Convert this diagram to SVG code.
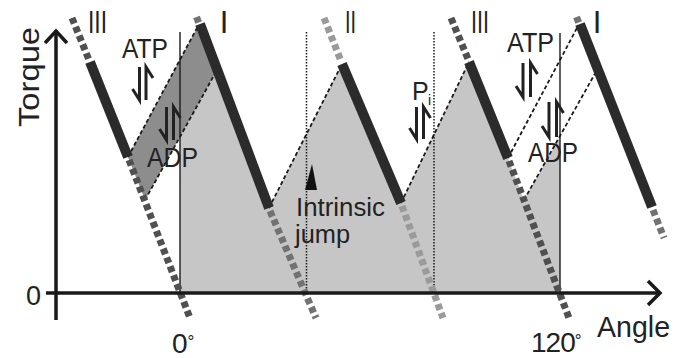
<svg xmlns="http://www.w3.org/2000/svg" width="680" height="358" viewBox="0 0 680 358">
<style>
  text { font-family: "Liberation Sans", Arial, sans-serif; fill: #222; }
  .bar { stroke: #2b2b2b; stroke-width: 10; fill: none; }
  .sq { stroke-width: 7; fill: none; stroke-dasharray: 6 3.5; }
  .s3 { stroke: #505050; }
  .s1 { stroke: #727272; }
  .s2 { stroke: #9a9a9a; }
  .dash { stroke: #1a1a1a; stroke-width: 1.8; stroke-dasharray: 4 2.5; fill: none; }
  .dot { stroke: #1a1a1a; stroke-width: 1.5; stroke-dasharray: 1.5 1.5; fill: none; }
  .vl { stroke: #1a1a1a; stroke-width: 1.4; fill: none; }
  .axis { stroke: #1a1a1a; stroke-width: 3.5; fill: none; }
  .harp { stroke: #222; stroke-width: 3; fill: none; stroke-linejoin: miter; }
</style>
<rect width="680" height="358" fill="#ffffff"/>

<g id="fills">
  <path d="M180,293 L180,136.8 L217,70 L269,208 L342,64 L401,203 L469,62 L508,158 L524,200 L560,136.8 L560,293 Z" fill="#c6c6c6"/>
  <path d="M128,157 L198,26 L217,70 L145,200 Z" fill="#8d8d8d"/>
</g>

<g id="guides">
  <line class="vl" x1="180" y1="32" x2="180" y2="293"/>
  <line class="vl" x1="560" y1="33" x2="560" y2="293"/>
  <line class="dot" x1="306.5" y1="32" x2="306.5" y2="293"/>
  <line class="dot" x1="434" y1="32" x2="434" y2="293"/>
</g>

<g id="connectors">
  <line class="dash" x1="128" y1="157" x2="198" y2="26"/>
  <line class="dash" x1="145" y1="200" x2="217" y2="70"/>
  <line class="dash" x1="269" y1="208" x2="342" y2="64"/>
  <line class="dash" x1="401" y1="203" x2="469" y2="62"/>
  <line class="dash" x1="508" y1="158" x2="578" y2="26"/>
  <line class="dash" x1="524" y1="200" x2="597" y2="70"/>
</g>

<g id="extensions">
  <line class="sq s3" x1="72" y1="18" x2="89" y2="60"/>
  <line class="sq s3" x1="129" y1="160" x2="190" y2="318"/>
  <line class="sq s1" x1="196.5" y1="17" x2="199" y2="23.5"/>
  <line class="sq s1" x1="270" y1="211" x2="316" y2="318"/>
  <line class="sq s2" x1="324" y1="18" x2="341" y2="61"/>
  <line class="sq s2" x1="402" y1="206" x2="443" y2="318"/>
  <line class="sq s3" x1="451" y1="18" x2="468" y2="59"/>
  <line class="sq s3" x1="509" y1="161" x2="569" y2="318"/>
  <line class="sq s1" x1="576.5" y1="17" x2="579" y2="23.5"/>
  <line class="sq s1" x1="653" y1="210" x2="664" y2="238"/>
</g>

<g id="bars">
  <line class="bar" x1="90" y1="62" x2="128" y2="157"/>
  <line class="bar" x1="200" y1="24" x2="269" y2="208"/>
  <line class="bar" x1="342" y1="64" x2="401" y2="203"/>
  <line class="bar" x1="469" y1="62" x2="508" y2="158"/>
  <line class="bar" x1="580" y1="24" x2="652" y2="207"/>
</g>

<g id="axes">
  <line class="axis" x1="56" y1="32" x2="56" y2="320"/>
  <line class="axis" x1="46" y1="293" x2="659" y2="293"/>
  <polyline class="axis" points="45,43 56,31 67,43"/>
  <polyline class="axis" points="648,281 660,293 648,305"/>
  <polygon points="312,164 305,190 317,190" fill="#111"/>
</g>

<g id="harpoons">
  <path class="harp" d="M139.5,67 V100 L132.5,89 M146,100 V67 L153,78"/>
  <path class="harp" d="M166.5,107 V140 L159.5,129 M173.5,140 V107 L180.5,118"/>
  <path class="harp" d="M416.5,107 V139 L409.5,128 M423.5,139 V107 L430.5,118"/>
  <path class="harp" d="M523,63 V97 L516,86 M530.5,97 V63 L537.5,74"/>
  <path class="harp" d="M549,102 V137 L542,126 M556.5,137 V102 L563.5,113"/>
</g>

<g id="labels">
  <text x="0" y="0" font-size="29" text-anchor="middle" textLength="100" lengthAdjust="spacingAndGlyphs" transform="translate(39,77) rotate(-90)">Torque</text>
  <text x="33.5" y="305" font-size="27" text-anchor="middle">0</text>
  <text x="172" y="353" font-size="28">0<tspan font-size="17" dy="-6">°</tspan></text>
  <text x="531" y="352" font-size="28" letter-spacing="-1">120<tspan font-size="17" dy="-6" letter-spacing="0">°</tspan></text>
  <text x="597" y="337" font-size="29" textLength="73" lengthAdjust="spacingAndGlyphs">Angle</text>
  <text x="88" y="33" font-size="31" textLength="19" lengthAdjust="spacingAndGlyphs">III</text>
  <text x="224" y="33" font-size="31" text-anchor="middle">I</text>
  <text x="345" y="33" font-size="31" textLength="11" lengthAdjust="spacingAndGlyphs">II</text>
  <text x="471" y="33" font-size="31" textLength="18" lengthAdjust="spacingAndGlyphs">III</text>
  <text x="597" y="33" font-size="31" text-anchor="middle">I</text>
  <text x="122" y="58" font-size="27" textLength="46" lengthAdjust="spacingAndGlyphs">ATP</text>
  <text x="147" y="167" font-size="27" textLength="51" lengthAdjust="spacingAndGlyphs">ADP</text>
  <text x="507" y="52" font-size="27" textLength="47" lengthAdjust="spacingAndGlyphs">ATP</text>
  <text x="528" y="162" font-size="27" textLength="50" lengthAdjust="spacingAndGlyphs">ADP</text>
  <text x="412" y="100" font-size="25">P</text>
  <text x="428" y="105" font-size="14">i</text>
  <text x="296" y="216" font-size="26" textLength="89" lengthAdjust="spacingAndGlyphs">Intrinsic</text>
  <text x="295" y="243" font-size="26" textLength="55" lengthAdjust="spacingAndGlyphs">jump</text>
</g>
</svg>
